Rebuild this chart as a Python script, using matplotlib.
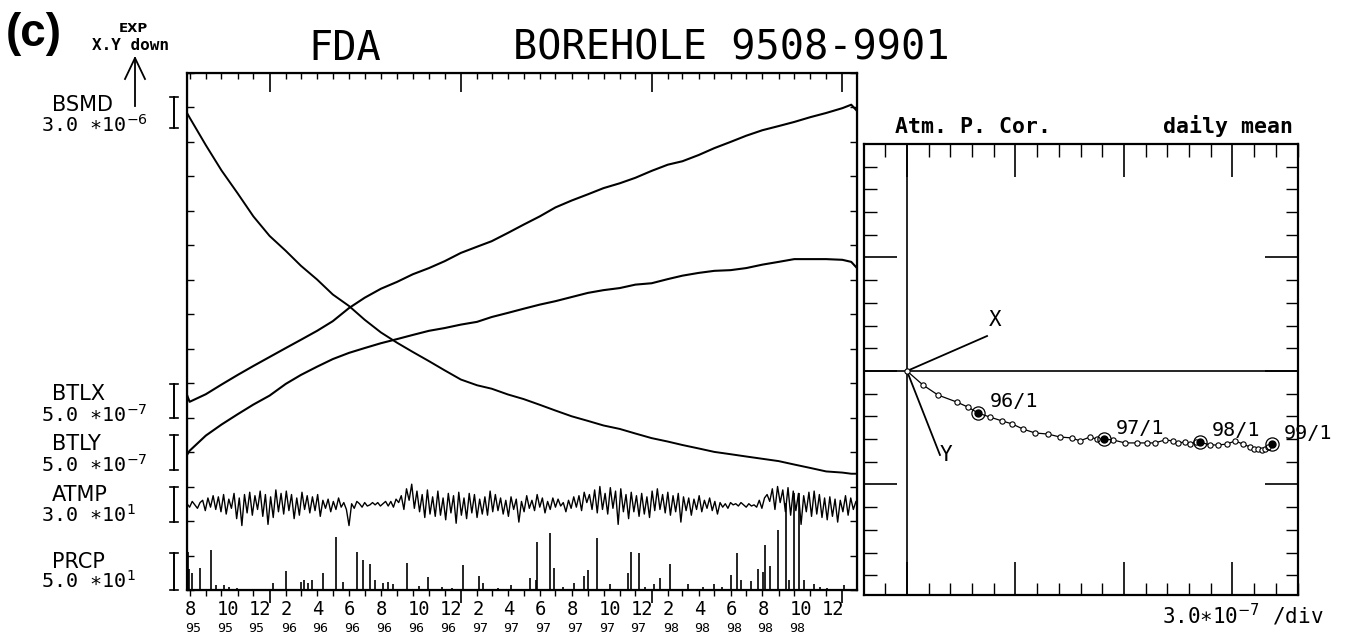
import numpy as np
import pandas as pd
import matplotlib
matplotlib.use('Agg')
import matplotlib.pyplot as plt
import matplotlib.dates as mdates
from matplotlib.lines import Line2D
from matplotlib.ticker import MultipleLocator

plt.rcParams['font.family'] = 'DejaVu Sans'
MONO = 'DejaVu Sans Mono'

W, H = 1348, 640

# ---------------- data ----------------
t_start = "1995-07-27"
t_end = "1999-01-29"
curve_days = ([pd.Timestamp(t_start)]
              + list(pd.date_range("1995-08-01", "1999-01-01", freq="MS"))
              + [pd.Timestamp("1999-01-18"), pd.Timestamp(t_end)])

# strain change from start (x1e-6 for BSMD, x1e-7 for tilts)
bsmd = [0.0, -0.4, -2.8, -5.0, -7.0, -9.0, -10.7, -12.0, -13.3, -14.5, -15.8,
        -16.8, -18.0, -19.1, -20.0, -20.8, -21.6, -22.4, -23.2, -23.7, -24.0,
        -24.5, -24.9, -25.4, -25.9, -26.4, -26.8, -27.2, -27.5, -27.9, -28.3,
        -28.6, -28.9, -29.2, -29.5, -29.7, -29.9, -30.1, -30.3, -30.6, -30.9,
        -31.2, -31.3, -31.4, -31.4]
btlx = [0.0, -1.0, 0.1, 1.5, 2.9, 4.2, 5.5, 6.8, 8.0, 9.3, 10.7, 12.6, 14.1,
        15.4, 16.4, 17.5, 18.4, 19.4, 20.6, 21.5, 22.3, 23.5, 24.7, 25.9, 27.2,
        28.2, 29.1, 30.0, 30.7, 31.5, 32.5, 33.4, 33.9, 34.8, 35.8, 36.7, 37.6,
        38.4, 39.0, 39.6, 40.3, 40.9, 41.6, 42.1, 41.2]
btly = [0.0, 0.6, 2.8, 4.4, 5.9, 7.3, 8.6, 10.3, 11.6, 12.8, 13.9, 14.8, 15.5,
        16.2, 16.8, 17.4, 18.0, 18.4, 18.9, 19.3, 20.0, 20.6, 21.2, 21.8, 22.3,
        22.9, 23.5, 23.9, 24.2, 24.7, 24.9, 25.5, 26.0, 26.4, 26.7, 26.8, 27.1,
        27.6, 28.0, 28.4, 28.4, 28.4, 28.3, 28.0, 27.1]

# atmospheric pressure deviation (hPa), one value every 5 days
atmp = [1, -2, 3, 0, -3, 2, 4, -5, 6, -2, 8, -4, 7, -6, 9, -8, 5, -3,
        10, -12, 6, -18, 9, -7, 11, -9, 8, -4, 12, -10, 9, -17, 7, -11, 13, -6,
        10, -8, 12, -5, 9, -12, 6, -9, 11, -4, 8, -7, 7, -5, 9, -10, 4, -3,
        5, -6, 3, -4, 6, -2, 2, -4, -18, 1, -3, 3, 1, -2, 2, -1, 0, 2,
        0, 2, -1, 1, 3, -1, 3, -2, 5, 2, 8, -4, 14, 4, 18, -3, 12, -6,
        9, -11, 13, -8, 7, -10, 12, -9, 6, -13, 10, -7, 8, -16, 11, -9, 6, -12,
        10, -7, 9, -11, 5, -8, 7, -9, 12, -6, 9, -5, 6, -8, 4, -10, 7, -4,
        5, -15, 3, -6, 8, -3, 4, -5, 9, -2, 6, -7, 3, -4, 6, -2, 5, -1,
        2, -6, 4, -3, 7, -2, 8, -5, 11, 2, 9, -4, 13, -7, 16, -4, 10, -8,
        15, -3, 12, -17, 14, -6, 9, -12, 11, -6, 8, -10, 10, -8, 7, -11, 12, -5,
        14, -4, 9, -7, 11, -9, 8, -6, 10, -15, 7, -5, 6, -9, 5, -4, 8, -6,
        4, -3, 6, -5, 3, -8, 2, -2, 1, -3, 2, 0, 1, -1, 2, 0, -2, 1,
        -1, 0, -2, 4, -3, 6, 9, 3, 14, -4, 16, 2, 13, -6, 15, -9, 12, -5,
        10, -17, 8, -6, 11, -10, 12, -8, 9, -11, 6, -13, 7, -10, 5, -15, 4, -6,
        8, -9, 6, -4, 3, -2]

# daily precipitation (mm), only the visible days
prcp_dates = ["1995-07-29", "1995-07-31", "1995-08-05", "1995-08-21", "1995-09-11",
              "1995-09-20", "1995-10-05", "1995-10-15", "1995-10-31", "1995-11-20",
              "1995-12-10", "1996-01-08", "1996-02-02", "1996-03-01", "1996-03-07",
              "1996-03-14", "1996-03-22", "1996-04-13", "1996-05-07", "1996-05-21",
              "1996-06-17", "1996-06-28", "1996-07-12", "1996-07-20", "1996-08-05",
              "1996-08-15", "1996-08-25", "1996-09-20", "1996-10-12", "1996-10-31",
              "1996-11-25", "1996-12-15", "1997-01-06", "1997-02-04", "1997-02-13",
              "1997-03-14", "1997-04-06", "1997-05-14", "1997-05-24", "1997-05-26",
              "1997-06-20", "1997-06-29", "1997-07-15", "1997-08-05", "1997-08-24",
              "1997-09-02", "1997-09-18", "1997-10-14", "1997-11-16", "1997-11-22",
              "1997-12-07", "1997-12-20", "1998-01-05", "1998-01-18", "1998-02-06",
              "1998-03-11", "1998-04-10", "1998-04-30", "1998-05-15", "1998-06-01",
              "1998-06-13", "1998-06-21", "1998-07-10", "1998-07-23", "1998-08-02",
              "1998-08-06", "1998-08-15", "1998-08-30", "1998-09-15", "1998-09-21",
              "1998-09-30", "1998-10-10", "1998-10-19", "1998-11-07", "1998-11-20",
              "1998-12-02", "1999-01-04"]
prcp_mm = [55, 30, 25, 32, 58, 7, 7, 5, 3, 2, 2, 10, 28, 12, 15, 10, 14, 25, 77, 12,
           55, 43, 38, 15, 10, 12, 8, 39, 6, 19, 4, 3, 36, 20, 10, 3, 7, 17, 14, 70,
           83, 32, 5, 10, 20, 29, 75, 9, 25, 55, 54, 4, 8, 17, 38, 8, 4, 8, 5, 22,
           54, 14, 13, 30, 26, 65, 35, 87, 126, 14, 141, 141, 14, 8, 5, 3, 7]

# channel names and scale (value per division)
names = ["BSMD", "BTLX", "BTLY", "ATMP", "PRCP"]
scales = ["3.0 ∗10$^{-6}$", "5.0 ∗10$^{-7}$", "5.0 ∗10$^{-7}$", "3.0 ∗10$^{1}$", "5.0 ∗10$^{1}$"]

# tilt vector trajectory (divisions of 3.0e-7), monthly daily-mean points
traj_x = [0.00, 0.74, 1.43, 2.30, 2.81, 3.27, 3.82, 4.38, 4.84, 5.35, 5.90, 6.50,
          7.05, 7.60, 7.97, 8.43, 8.75, 9.08, 9.50, 10.05, 10.60, 11.06, 11.43,
          11.89, 12.26, 12.50, 12.80, 13.05, 13.30, 13.50, 13.96, 14.33, 14.75,
          15.12, 15.48, 15.81, 16.00, 16.18, 16.35, 16.50, 16.65, 16.82]
traj_y = [0.00, -0.62, -1.06, -1.37, -1.59, -1.85, -2.03, -2.20, -2.33, -2.56,
          -2.73, -2.78, -2.91, -2.95, -3.08, -2.91, -3.00, -3.00, -3.04, -3.17,
          -3.17, -3.17, -3.17, -3.04, -3.08, -3.17, -3.13, -3.20, -3.15, -3.13,
          -3.26, -3.26, -3.22, -3.08, -3.22, -3.35, -3.45, -3.45, -3.50, -3.45,
          -3.35, -3.22]
year_idx = [5, 17, 29, 41]
year_lbl = ["96/1", "97/1", "98/1", "99/1"]
x_dir = [3.69, 1.54]
y_dir = [1.52, -3.70]


def fx(x):
    return x / W


def fy(y):
    return 1 - y / H


def fig_line(xs, ys, lw=1.3):
    fig.add_artist(Line2D([fx(v) for v in xs], [fy(v) for v in ys],
                          transform=fig.transFigure, color='k', lw=lw))


fig = plt.figure(figsize=(W / 100, H / 100), dpi=100)

# ---------------- left: time series ----------------
ax = fig.add_axes([fx(187), fy(590), (857 - 187) / W, (590 - 73) / H])
x0, x1 = pd.Timestamp(t_start), pd.Timestamp(t_end)
ax.set_xlim(x0, x1)
ax.set_ylim(0, 15)

cd = pd.to_datetime(curve_days)
ax.plot(cd, 13.84 + np.array(bsmd) / 3.0, color='k', lw=1.4)
ax.plot(cd, 5.66 + np.array(btlx) / 5.0, color='k', lw=1.5)
ax.plot(cd, 3.92 + np.array(btly) / 5.0, color='k', lw=1.5)
atmp_t = pd.date_range(t_start, periods=len(atmp), freq="5D")
ax.plot(atmp_t, 2.47 + np.array(atmp) / 30.0, color='k', lw=1.0)
ax.vlines(pd.to_datetime(prcp_dates), 0, np.array(prcp_mm) / 50.0, color='k', lw=1.2)

ax.xaxis.set_major_locator(mdates.YearLocator())
ax.xaxis.set_minor_locator(mdates.MonthLocator())
ax.tick_params(axis='x', which='major', direction='out', length=9, width=1.2, labelbottom=False)
ax.tick_params(axis='x', which='minor', direction='out', length=4.5, width=1.0)
ax.yaxis.set_major_locator(MultipleLocator(1))
ax.tick_params(axis='y', which='major', direction='in', length=5, width=1.0,
               left=True, right=True, labelleft=False)
for s in ax.spines.values():
    s.set_linewidth(1.6)

top = ax.twiny()
top.xaxis_date()
top.set_xlim(x0, x1)
top.xaxis.set_major_locator(mdates.YearLocator())
top.xaxis.set_minor_locator(mdates.MonthLocator())
top.tick_params(axis='x', which='major', direction='in', length=14, width=1.2, labeltop=False)
top.tick_params(axis='x', which='minor', direction='in', length=4, width=1.0)

# month / year labels under the time axis
lab_months = pd.date_range("1995-08-01", "1998-12-01", freq="2MS")
for i, d in enumerate(lab_months):
    ax.annotate(str(d.month), xy=(d, 0), xycoords=('data', 'axes fraction'),
                xytext=(-3.5, -18), textcoords='offset points', ha='left', va='baseline',
                family=MONO, fontsize=13.5)
    if i < len(lab_months) - 1:
        ax.annotate(str(d.year)[2:], xy=(d, 0), xycoords=('data', 'axes fraction'),
                    xytext=(-3.5, -30), textcoords='offset points', ha='left', va='baseline',
                    family=MONO, fontsize=9.5)

# channel labels and scale bars
name_base = [111, 400, 450, 501, 568]
val_base = [132, 422, 472, 522, 588]
bar_span = [(97, 128), (384, 418), (435, 470), (487, 522), (553, 590)]
for nm, sc, nb, vb, (b0, b1) in zip(names, scales, name_base, val_base, bar_span):
    fig.text(fx(52), fy(nb), nm, fontsize=15, va='baseline', ha='left')
    fig.text(fx(41), fy(vb), sc, family=MONO, fontsize=14.5, va='baseline', ha='left')
    fig_line([174, 174], [b0, b1], lw=1.4)
    fig_line([170, 178], [b0, b0], lw=1.2)
    fig_line([170, 178], [b1, b1], lw=1.2)

# header
fig.text(fx(6), fy(46), "(c)", family='Liberation Sans', fontweight='bold', fontsize=33, va='baseline')
fig.text(fx(133), fy(32), "EXP", fontweight='bold', fontsize=9.5, ha='center', va='baseline')
fig.text(fx(131), fy(50), "X.Y down", family=MONO, fontweight='bold', fontsize=11.5,
         ha='center', va='baseline')
fig_line([135, 135], [106, 58], lw=1.3)
fig_line([125, 135, 145], [79, 58, 79], lw=1.3)
fig.text(fx(308), fy(60), "FDA", family=MONO, fontsize=29, va='baseline')
fig.text(fx(731), fy(60), "BOREHOLE 9508-9901", family=MONO, fontsize=29, va='baseline', ha='center')

# ---------------- right: tilt vector ----------------
ax2 = fig.add_axes([fx(864), fy(595), (1298 - 864) / W, (595 - 144) / H])
ax2.set_xlim(-1.98, 18.02)
ax2.set_ylim(-9.87, 10.0)
ax2.axvline(0, color='k', lw=1.2)
ax2.axhline(0, color='k', lw=1.2)
ax2.plot([0, x_dir[0]], [0, x_dir[1]], color='k', lw=1.3)
ax2.plot([0, y_dir[0]], [0, y_dir[1]], color='k', lw=1.3)
ax2.annotate("X", xy=(x_dir[0], x_dir[1]), xytext=(1, 4), textcoords='offset points',
             family=MONO, fontsize=15, ha='left', va='bottom')
ax2.annotate("Y", xy=(y_dir[0], y_dir[1]), xytext=(0, 0), textcoords='offset points',
             family=MONO, fontsize=15, ha='left', va='center')
ax2.plot(traj_x, traj_y, '-o', color='k', lw=0.9, ms=3.8, mfc='white', mec='k', mew=0.8)
yx = [traj_x[i] for i in year_idx]
yy = [traj_y[i] for i in year_idx]
ax2.plot(yx, yy, 'o', ms=9.5, mfc='none', mec='k', mew=0.9)
ax2.plot(yx, yy, 'o', ms=5, mfc='k', mec='k')
for xv, yv, lb in zip(yx, yy, year_lbl):
    ax2.annotate(lb, xy=(xv, yv), xytext=(8.5, 4), textcoords='offset points',
                 family=MONO, fontsize=14.5, ha='left', va='baseline', annotation_clip=False)

ax2.xaxis.set_major_locator(MultipleLocator(5))
ax2.xaxis.set_minor_locator(MultipleLocator(1))
ax2.yaxis.set_major_locator(MultipleLocator(5))
ax2.yaxis.set_minor_locator(MultipleLocator(1))
ax2.tick_params(which='major', direction='in', length=24, width=1.2,
                top=True, bottom=True, left=True, right=True,
                labelbottom=False, labelleft=False)
ax2.tick_params(which='minor', direction='in', length=9, width=1.0,
                top=True, bottom=True, left=True, right=True)
for s in ax2.spines.values():
    s.set_linewidth(1.6)

fig.text(fx(895), fy(133), "Atm. P. Cor.", family=MONO, fontweight='bold', fontsize=15.5, va='baseline')
fig.text(fx(1293), fy(133), "daily mean", family=MONO, fontweight='bold', fontsize=15.5,
         va='baseline', ha='right')
fig.text(fx(1162), fy(624), "3.0∗10$^{-7}$ /div", family=MONO, fontsize=15, va='baseline')

fig.savefig("out.png", dpi=100)
